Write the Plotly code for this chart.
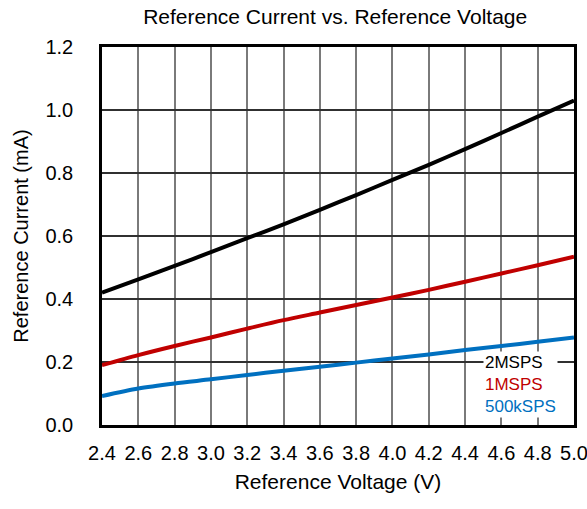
import plotly.graph_objects as go

voltage = [2.4, 2.6, 2.8, 3.0, 3.2, 3.4, 3.6, 3.8, 4.0, 4.2, 4.4, 4.6, 4.8, 5.0]
i_2msps = [0.420, 0.462, 0.505, 0.549, 0.593, 0.637, 0.683, 0.730, 0.778, 0.826, 0.876, 0.927, 0.979, 1.030]
i_1msps = [0.190, 0.222, 0.251, 0.278, 0.306, 0.333, 0.357, 0.381, 0.405, 0.429, 0.455, 0.481, 0.507, 0.534]
i_500k = [0.092, 0.116, 0.132, 0.145, 0.159, 0.172, 0.185, 0.198, 0.211, 0.224, 0.238, 0.251, 0.264, 0.278]
x_ticks = [2.4, 2.6, 2.8, 3.0, 3.2, 3.4, 3.6, 3.8, 4.0, 4.2, 4.4, 4.6, 4.8, 5.0]
y_ticks = [0.0, 0.2, 0.4, 0.6, 0.8, 1.0, 1.2]
series = [("2MSPS", i_2msps, "#000000"), ("1MSPS", i_1msps, "#c00000"), ("500kSPS", i_500k, "#0070c0")]

FONT = "Liberation Sans, Arial, sans-serif"

fig = go.Figure()
for name, vals, col in series:
    fig.add_trace(go.Scatter(x=voltage, y=vals, mode="lines", name=name,
                             line=dict(color=col, width=4, shape="spline", smoothing=0.8)))

legend_text = "<br>".join(f"<span style='color:{c}'>{n}</span>" for n, _, c in series)
fig.add_annotation(xref="paper", yref="paper", x=0.808, y=0.195, xanchor="left", yanchor="top",
                   text=legend_text, showarrow=False, align="left", bgcolor="white",
                   font=dict(family=FONT, size=17, color="black"), borderpad=1)

fig.update_layout(
    width=587, height=509,
    margin=dict(l=102, r=13, t=47, b=84),
    paper_bgcolor="white", plot_bgcolor="white",
    showlegend=False,
    font=dict(family=FONT, color="black"),
    title=dict(text="Reference Current vs. Reference Voltage", x=0.571, xanchor="center",
               y=0.967, yanchor="middle", font=dict(size=21, family=FONT, color="black")),
    xaxis=dict(range=[2.4, 5.0], tickvals=x_ticks, ticktext=[f"{v:.1f}" for v in x_ticks],
               showgrid=True, gridcolor="#7a7a7a", gridwidth=1.5,
               showline=True, linecolor="black", linewidth=2.5, mirror=True,
               ticks="", tickfont=dict(size=20, family=FONT), ticklabelstandoff=8,
               ticklabeloverflow="allow",
               zeroline=False, automargin=False,
               title=dict(text="Reference Voltage (V)", font=dict(size=21, family=FONT), standoff=12)),
    yaxis=dict(range=[0, 1.2], tickvals=y_ticks, ticktext=[f"{v:.1f}" for v in y_ticks],
               showgrid=True, gridcolor="#303030", gridwidth=1.5,
               showline=True, linecolor="black", linewidth=2.5, mirror=True,
               ticks="", tickfont=dict(size=20, family=FONT), ticklabelstandoff=22,
               ticklabeloverflow="allow",
               zeroline=False, automargin=False,
               title=dict(text="Reference Current (mA)", font=dict(size=20, family=FONT), standoff=12)),
)

fig.write_html("out.html")
